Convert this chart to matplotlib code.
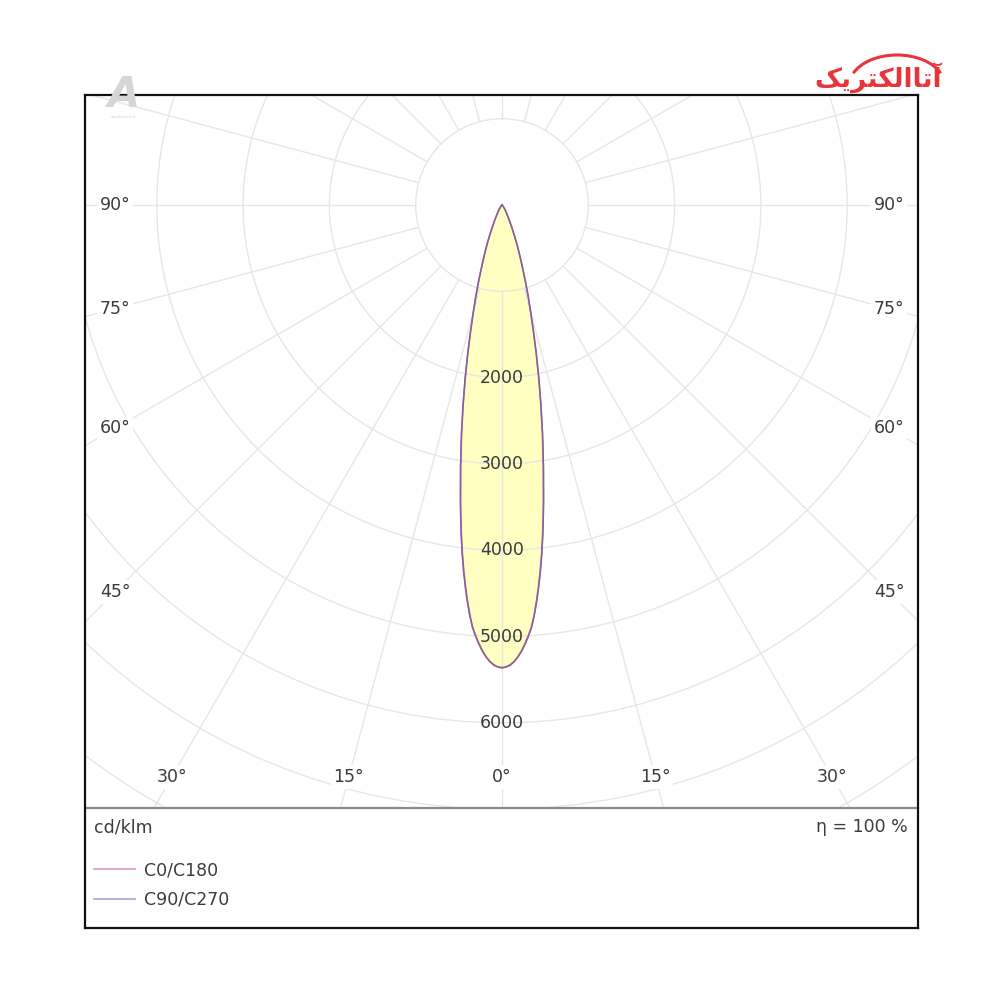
import numpy as np
import matplotlib
matplotlib.use("Agg")
import matplotlib.pyplot as plt
from matplotlib.patches import Circle, Arc
from matplotlib.lines import Line2D

plt.rcParams.update({
    "font.family": ["DejaVu Sans"],
    "font.size": 12.5,
    "text.color": "#3c3c3c",
})

# =========================
# Photometric data (cd/klm) vs gamma angle (deg)
# =========================
gamma_deg = [0, 0.5, 1, 1.5, 2, 2.5, 3, 3.5, 4, 4.5, 5, 5.5, 6, 6.5, 7, 7.5, 8, 9, 10,
             11, 12, 13, 14, 15, 16, 17, 18, 19, 20, 21, 22, 23, 24, 25, 26, 27, 28,
             29, 30, 32, 35, 40, 45, 50, 60, 90]
i_c0_c180 = [5360, 5352, 5330, 5292, 5240, 5172, 5090, 5000, 4900, 4760, 4600, 4430,
             4250, 4060, 3860, 3655, 3450, 3060, 2700, 2360, 2050, 1760, 1500, 1280,
             1100, 930, 780, 660, 560, 470, 390, 315, 260, 215, 180, 150, 125, 105, 90,
             70, 48, 22, 10, 4, 0, 0]
i_c90_c270 = [5365, 5357, 5335, 5298, 5245, 5180, 5100, 5010, 4910, 4772, 4615, 4445,
              4265, 4075, 3875, 3670, 3465, 3075, 2712, 2370, 2058, 1768, 1506, 1285,
              1104, 934, 783, 662, 562, 472, 392, 316, 261, 216, 181, 151, 126, 106, 91,
              70, 48, 22, 10, 4, 0, 0]

ring_values = [1000, 2000, 3000, 4000, 5000, 6000, 7000, 8000, 9000]
ring_labels = [2000, 3000, 4000, 5000, 6000]
spoke_angles = list(range(0, 360, 15))
angle_labels = [0, 15, 30, 45, 60, 75, 90]

legend_names = ["C0/C180", "C90/C270"]
line_colors = ["#c8606a", "#6a64c0"]
legend_colors = ["#e2a4aa", "#a8aadc"]

# =========================
# Layout (pixels on a 1000x1000 canvas)
# =========================
FRAME_L, FRAME_R, FRAME_T, FRAME_B = 85, 918, 95, 928
DIVIDER = 808
CX, CY = 502, 205
PX_PER_CD = 0.0863
GRID = "#e6e6e6"

fig = plt.figure(figsize=(10, 10), dpi=100)

# polar diagram drawn in a cartesian axes, units = cd/klm
ax = fig.add_axes([FRAME_L / 1000, 1 - DIVIDER / 1000,
                   (FRAME_R - FRAME_L) / 1000, (DIVIDER - FRAME_T) / 1000])
xmin = (FRAME_L - CX) / PX_PER_CD
xmax = (FRAME_R - CX) / PX_PER_CD
ymin = -(DIVIDER - CY) / PX_PER_CD
ymax = (CY - FRAME_T) / PX_PER_CD
ax.set_xlim(xmin, xmax)
ax.set_ylim(ymin, ymax)
ax.set_xticks([])
ax.set_yticks([])
for side in ["top", "left", "right"]:
    ax.spines[side].set_visible(False)
ax.spines["bottom"].set_color("#8a8a8a")
ax.spines["bottom"].set_linewidth(1.6)

# rings
for r in ring_values:
    ax.add_patch(Circle((0, 0), r, fill=False, edgecolor=GRID, lw=1.0, zorder=2))

# spokes from the first ring outwards
for a in spoke_angles:
    t = np.radians(a)
    ax.plot([1000 * np.sin(t), 12000 * np.sin(t)],
            [-1000 * np.cos(t), -12000 * np.cos(t)],
            color=GRID, lw=1.0, zorder=2)


def curve_xy(values):
    g = np.radians(np.array(gamma_deg, dtype=float))
    v = np.array(values, dtype=float)
    g_full = np.concatenate([-g[::-1], g[1:]])
    v_full = np.concatenate([v[::-1], v[1:]])
    return v_full * np.sin(g_full), -v_full * np.cos(g_full)


x0, y0 = curve_xy(i_c0_c180)
x90, y90 = curve_xy(i_c90_c270)
ax.fill(x90, y90, color="#ffffc2", zorder=1)
ax.plot(x0, y0, color=line_colors[0], lw=1.2, zorder=4)
ax.plot(x90, y90, color=line_colors[1], lw=1.0, alpha=0.85, zorder=4)

# intensity labels along gamma = 0
for v in ring_labels:
    ax.text(0, -v, f"{v}", ha="center", va="center", fontsize=12.5, zorder=6)

# angle labels where spokes meet an inset rectangle
side_dist = 387 / PX_PER_CD
yb = ymin + 31 / PX_PER_CD
for a in angle_labels:
    t = np.radians(a)
    s, c = np.sin(t), np.cos(t)
    sides = [1, -1] if a else [1]
    for sg in sides:
        if s > 1e-9 and -side_dist / s * c > yb:
            px, py = sg * side_dist, -side_dist / s * c
        else:
            d = -yb / c
            px, py = sg * d * s, -d * c
        ax.text(px, py, f"{a}°", ha="center", va="center", fontsize=12.5, zorder=6,
                bbox=dict(boxstyle="square,pad=0.15", fc="white", ec="none"))

# =========================
# Bottom info panel
# =========================
ax2 = fig.add_axes([FRAME_L / 1000, 1 - FRAME_B / 1000,
                    (FRAME_R - FRAME_L) / 1000, (FRAME_B - DIVIDER) / 1000])
ax2.set_xlim(0, 1)
ax2.set_ylim(0, 1)
ax2.axis("off")
ax2.text(0.011, 0.84, "cd/klm", ha="left", va="center", transform=ax2.transAxes)
ax2.text(0.988, 0.84, "η = 100 %", ha="right", va="center", transform=ax2.transAxes)
handles = [Line2D([], [], color=c, lw=1.3) for c in legend_colors]
ax2.legend(handles, legend_names, loc="upper left", bbox_to_anchor=(0.011, 0.558),
           frameon=False, handlelength=2.35, handletextpad=0.5, labelspacing=0.68,
           borderaxespad=0.0, borderpad=0.0, fontsize=12.5, labelcolor="#3c3c3c")

# outer frame
frame = fig.add_axes([FRAME_L / 1000, 1 - FRAME_B / 1000,
                      (FRAME_R - FRAME_L) / 1000, (FRAME_B - FRAME_T) / 1000])
frame.patch.set_alpha(0)
frame.set_xticks([])
frame.set_yticks([])
for sp in frame.spines.values():
    sp.set_linewidth(1.6)
    sp.set_color("#111111")

# logos
logo = "\uFB8F\uFBFE\uFEAE\uFE98\uFB91\uFEDF\uFE8D\uFE8E\uFE97\uFE81"
fig.text(0.878, 0.922, logo, ha="center", va="center", fontsize=19,
         fontweight="bold", color="#e8353b")
fig.add_artist(Arc((0.897, 0.915), 0.095, 0.06, theta1=15, theta2=165,
                   transform=fig.transFigure, color="#e8353b", lw=2.2))
fig.text(0.124, 0.905, "A", ha="center", va="center", fontsize=30,
         fontweight="bold", style="italic", color="#d6d6d6")
fig.text(0.124, 0.883, "ataelectric.ir", ha="center", va="center", fontsize=3,
         color="#cfcfcf")

fig.savefig("out.png", dpi=100, facecolor="white")
plt.close(fig)
